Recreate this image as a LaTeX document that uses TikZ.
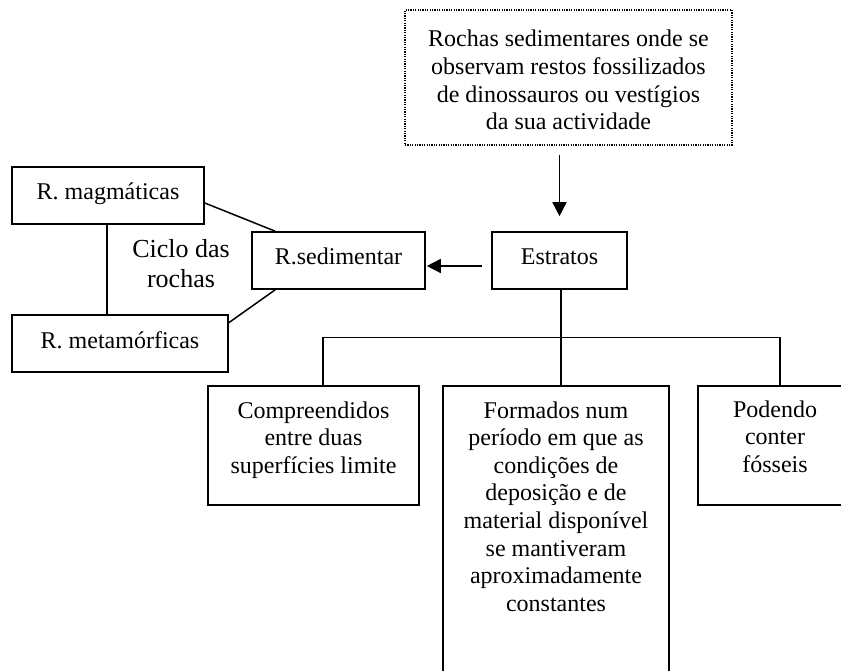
\documentclass[tikz,border=0pt]{standalone}
\usepackage{fontspec}
\setmainfont{Liberation Serif}
\usetikzlibrary{arrows.meta}
% text box of given width and height, first baseline at a fixed depth below the top
\newcommand{\boxtext}[4]{\parbox[c][#2][t]{#1}{\centering\rule{0pt}{#3}#4}}
\begin{document}
\begin{tikzpicture}[x=1pt,y=-1pt,
  font=\fontsize{24pt}{27.6pt}\selectfont,
  onebox/.style={draw,line width=1.6pt,inner sep=0pt,text height=15pt,text depth=6pt},
  tallbox/.style={draw,line width=1.6pt,inner sep=0pt},
  link/.style={line width=1.5pt},
  arr/.style={line width=1.5pt,-{Triangle[length=14pt,width=14pt]}}]
\useasboundingbox (0,0) rectangle (841,671);
\clip (0,0) rectangle (841,671);

% boxes
\node[tallbox,dash pattern=on 1.2pt off 1.2pt,line width=1.3pt] (top) at (568.5,77.5)
  {\boxtext{327pt}{135pt}{37pt}{Rochas sedimentares onde se\\observam restos fossilizados\\de dinossauros ou vestígios\\da sua actividade}};
\node[onebox,minimum width=192pt,minimum height=57pt] (magm) at (108,195.5) {R. magmáticas};
\node[onebox,minimum width=173pt,minimum height=57pt] (sed) at (338.5,260.5) {R.sedimentar};
\node[onebox,minimum width=216pt,minimum height=57pt] (meta) at (120,343.5) {R. metamórficas};
\node[onebox,minimum width=135pt,minimum height=57pt] (estr) at (559.5,260.5) {Estratos};
\node[font=\fontsize{26pt}{30pt}\selectfont,align=center,inner sep=0pt] (ciclo) at (181,264) {Ciclo das\\rochas};

\node[tallbox] (comp) at (313.5,445.5)
  {\boxtext{211pt}{119pt}{32pt}{Compreendidos\\entre duas\\superfícies limite}};
\node[tallbox] (form) at (556,536)
  {\boxtext{226pt}{300pt}{32pt}{Formados num\\período em que as\\condições de\\deposição e de\\material disponível\\se mantiveram\\aproximadamente\\constantes}};
\node[tallbox] (pod) at (775,445.5)
  {\boxtext{154pt}{119pt}{31pt}{Podendo\\conter\\fósseis}};

% arrows
\draw[arr,shorten <=9pt,shorten >=15pt] (top.south -| estr.north) -- (estr.north);
\draw[arr,shorten <=9pt,shorten >=1pt] ([yshift=-5.5pt]estr.west) -- ([yshift=-5.5pt]sed.east);

% rock cycle
\draw[link] ([yshift=-7.5pt]magm.east) -- ([xshift=24pt]sed.north west);
\draw[link] ([xshift=24pt]sed.south west) -- ([yshift=-8.5pt]meta.north east);
\draw[link] ([xshift=-1pt]magm.south) -- ([xshift=-1pt]magm.south |- meta.north);

% tree below Estratos
\coordinate (barL) at (323,337.5);
\coordinate (barR) at (780,337.5);
\draw[link] ([xshift=1.5pt]estr.south) -- ([xshift=1.5pt]estr.south |- form.north);
\draw[link] (barL |- comp.north) -- (barL) -- (barR) -- (barR |- pod.north);
\end{tikzpicture}
\end{document}
